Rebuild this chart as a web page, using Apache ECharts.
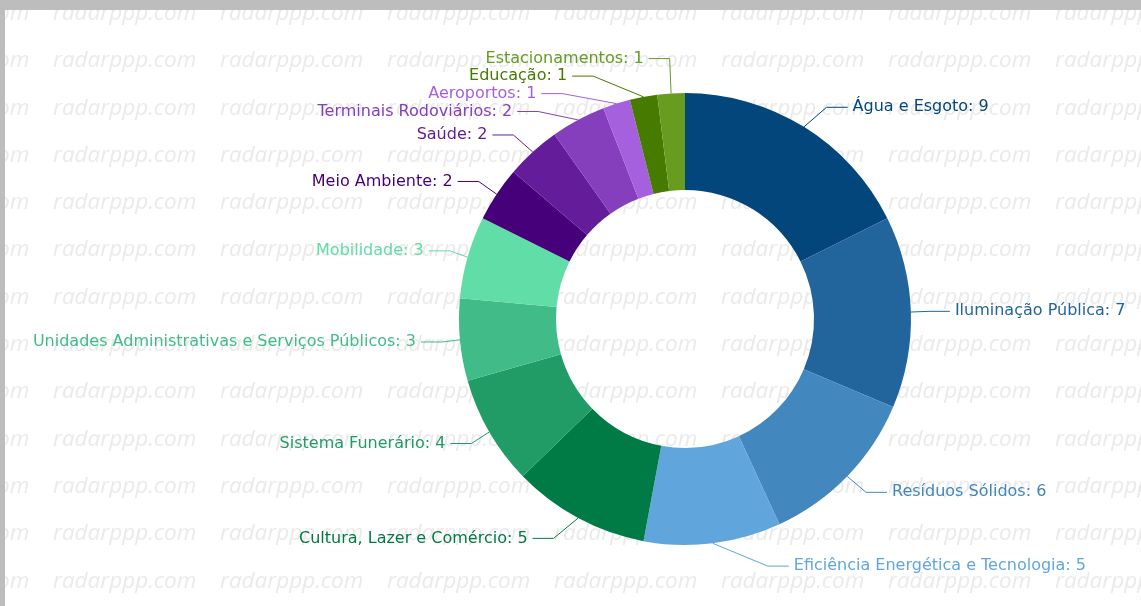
<!DOCTYPE html>
<html>
<head>
<meta charset="utf-8">
<script src="https://cdn.jsdelivr.net/npm/echarts@6/dist/echarts.min.js"></script>
<style>
html,body{margin:0;padding:0;background:#bdbdbd;width:1141px;height:606px;overflow:hidden;}
#chart{position:absolute;left:5px;top:10px;width:1136px;height:596px;background:#fff;}
</style>
</head>
<body>
<div id="chart"></div>
<script>
const categories = [
  'Água e Esgoto','Iluminação Pública','Resíduos Sólidos','Eficiência Energética e Tecnologia',
  'Cultura, Lazer e Comércio','Sistema Funerário','Unidades Administrativas e Serviços Públicos',
  'Mobilidade','Meio Ambiente','Saúde','Terminais Rodoviários','Aeroportos','Educação','Estacionamentos'
];
const values = [9, 7, 6, 5, 5, 4, 3, 3, 2, 2, 2, 1, 1, 1];
const colors = [
  '#02467c','#22659c','#4287be','#60a6dd',
  '#007b45','#219c67','#41bc88','#61dda8',
  '#45007a','#641c9b','#853fbc','#a560dd','#467b00','#679c21'
];
const watermarkText = 'radarppp.com';

// layout / style constants
const W = 1136, H = 596;
const CX = 680, CY = 309, R_OUT = 226, R_IN = 129;
const LEN = 23, LEN2 = 21, GAP = 5, LH = 17.5;

// Classic (v4-style) outer-label layout, derived from the data values
function computeLabelLayout() {
  const total = values.reduce((a, b) => a + b, 0);
  let acc = 0;
  const items = values.map((v, i) => {
    const mid = -Math.PI / 2 + (acc + v / 2) / total * 2 * Math.PI;
    acc += v;
    const dx = Math.cos(mid), dy = Math.sin(mid);
    const x1 = CX + dx * R_OUT, y1 = CY + dy * R_OUT;
    const x2 = x1 + dx * LEN, y2 = y1 + dy * LEN;
    const dir = dx < 0 ? -1 : 1;
    const x3 = x2 + dir * LEN2;
    return { i, dir, x: x3 + dir * GAP, y: y2, p1: [x1, y1], height: LH };
  });

  function adjustSide(list, dir) {
    list.sort((a, b) => a.y - b.y);
    function shiftDown(start, end, delta) {
      for (let j = start; j < end; j++) {
        if (list[j].y + delta > H) break;
        list[j].y += delta;
        if (j > start && j + 1 < end && list[j + 1].y > list[j].y + list[j].height) {
          shiftUp(j, delta / 2);
          return;
        }
      }
      shiftUp(end - 1, delta / 2);
    }
    function shiftUp(end, delta) {
      for (let j = end; j >= 0; j--) {
        if (list[j].y - delta < 0) break;
        list[j].y -= delta;
        if (j > 0 && list[j].y > list[j - 1].y + list[j - 1].height) break;
      }
    }
    function changeX(sub, isDown) {
      let last = isDown ? Number.MAX_VALUE : 0;
      for (const it of sub) {
        const dyAbs = Math.abs(it.y - CY);
        const rr = R_OUT + LEN + LEN2;
        let dX = dyAbs < R_OUT + LEN ? Math.sqrt(rr * rr - dyAbs * dyAbs) : Math.abs(it.x - CX);
        if (isDown && dX >= last) dX = last - 10;
        if (!isDown && dX <= last) dX = last + 10;
        it.x = CX + dX * dir;
        last = dX;
      }
    }
    let lastY = 0;
    for (let i = 0; i < list.length; i++) {
      const delta = list[i].y - lastY;
      if (delta < 0) shiftDown(i, list.length, -delta);
      lastY = list[i].y + list[i].height;
    }
    if (H - lastY < 0) shiftUp(list.length - 1, lastY - H);
    changeX(list.filter(it => it.y < CY), false);
    changeX(list.filter(it => it.y >= CY), true);
  }
  adjustSide(items.filter(it => it.dir > 0), 1);
  adjustSide(items.filter(it => it.dir < 0), -1);

  items.forEach(it => {
    const endX = it.x - it.dir * GAP;
    it.points = [it.p1, [endX - it.dir * LEN2, it.y], [endX, it.y]];
  });
  return items;
}
const labelPos = computeLabelLayout();

const chart = echarts.init(document.getElementById('chart'));

const wm = [];
for (let r = 0; r < 14; r++) {
  for (let c = 0; c < 8; c++) {
    wm.push({
      type: 'text', silent: true, z: -10,
      left: -119 + c * 167, top: -8 + r * 47.3,
      style: { text: watermarkText, fill: '#eaeaea', font: 'italic 22.5px "Open Sans"' }
    });
  }
}

chart.setOption({
  backgroundColor: '#fff',
  graphic: wm,
  series: [{
    type: 'pie',
    center: [CX, CY],
    radius: [R_IN, R_OUT],
    startAngle: 90,
    clockwise: true,
    avoidLabelOverlap: false,
    data: categories.map((n, i) => ({ name: n, value: values[i], itemStyle: { color: colors[i] } })),
    label: {
      formatter: '{b}: {c}',
      fontFamily: 'DejaVu Sans',
      fontSize: 16,
      color: 'inherit'
    },
    labelLine: { length: LEN, length2: LEN2, lineStyle: { width: 1 } },
    labelLayout: function (params) {
      const p = labelPos[params.dataIndex];
      return {
        x: p.x, y: p.y,
        align: p.dir > 0 ? 'left' : 'right',
        verticalAlign: 'middle',
        labelLinePoints: p.points
      };
    },
    itemStyle: { borderWidth: 0 },
    emphasis: { disabled: true }
  }]
});
</script>
</body>
</html>
